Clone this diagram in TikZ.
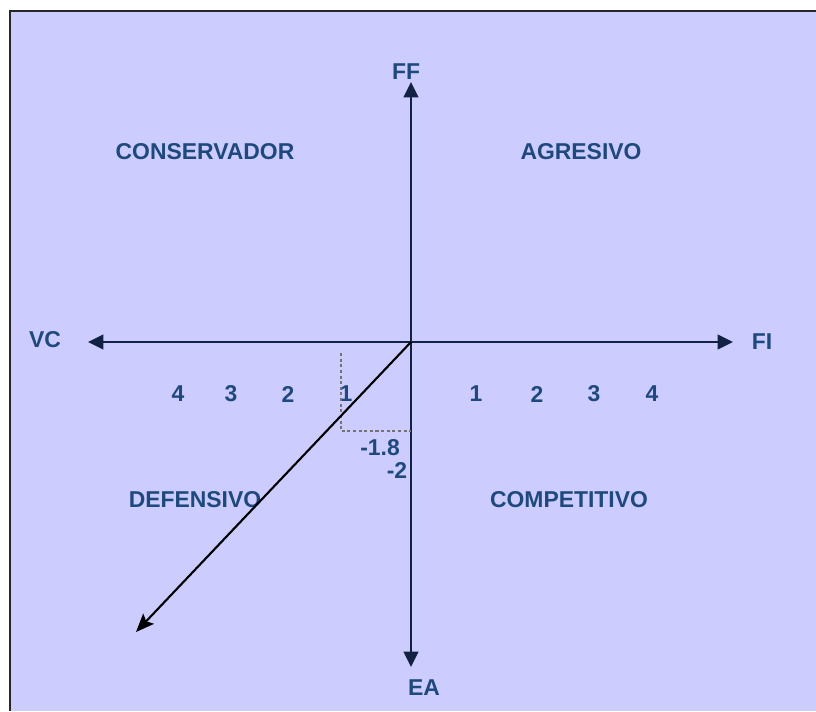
\documentclass[tikz,border=0pt]{standalone}
\usepackage{fontspec}
\setmainfont{Liberation Sans}
\usetikzlibrary{arrows.meta}
\definecolor{quadbg}{RGB}{204,204,255}
\definecolor{labelblue}{RGB}{31,73,125}
\definecolor{axisnavy}{RGB}{18,34,66}

\begin{document}
\begin{tikzpicture}[x=0.025cm, y=-0.025cm, font=\fontsize{16.3}{19}\selectfont\bfseries, >=Stealth]
  \tikzstyle{lbl}=[text=labelblue, inner sep=0pt]
  \tikzstyle{axis}=[draw=axisnavy, line width=1.5pt, -{Triangle[length=11pt,width=10.5pt]}]
  \tikzstyle{vector}=[draw=black, line width=1.5pt, -{Stealth[length=13pt,width=10.5pt,inset=2.5pt]}]
  \tikzstyle{guide}=[draw=black!55, line width=1pt, dash pattern=on 2.2pt off 1.8pt]
  \useasboundingbox (0,0) rectangle (816,711);
  \fill[quadbg] (10,11) rectangle (816,711);
  \draw[line width=2pt, draw=black!85] (10,711) -- (10,11) -- (816,11);
  % axes
  \coordinate (o) at (411,342);
  \coordinate (fftip) at (411,82);
  \coordinate (eatip) at (411,667);
  \coordinate (fitip) at (733,342);
  \coordinate (vctip) at (88,342);
  \draw[axis] (o) -- (fftip);
  \draw[axis] (o) -- (eatip);
  \draw[axis] (o) -- (fitip);
  \draw[axis] (o) -- (vctip);
  \node[lbl] (ff) at (406,72) {FF};
  \node[lbl] (ea) at (424,688) {EA};
  \node[lbl] (fi) at (762,342) {FI};
  \node[lbl] (vc) at (45,340) {VC};
  % quadrants
  \node[lbl] (conservador) at (205,152) {CONSERVADOR};
  \node[lbl] (agresivo) at (581,152) {AGRESIVO};
  \node[lbl] (defensivo) at (195,500) {DEFENSIVO};
  \node[lbl] (competitivo) at (569,500) {COMPETITIVO};
  % scales
  \foreach \n/\x in {4/178,3/231,2/288,1/346}
    \node[lbl] (vcn\n) at (\x,394) {\n};
  \foreach \n/\x in {1/476,2/537,3/594,4/652}
    \node[lbl] (fin\n) at (\x,394) {\n};
  \node[lbl] (ean18) at (380,448) {-1.8};
  \node[lbl] (ean2) at (397,470) {-2};
  % resulting vector
  \coordinate (gtop) at (341,353);
  \coordinate (gcorner) at (341,431);
  \coordinate (gend) at (411,431);
  \draw[guide] (gtop) -- (gcorner) -- (gend);
  \coordinate (vtip) at (136,632);
  \draw[vector] (o) -- (vtip);
\end{tikzpicture}
\end{document}
